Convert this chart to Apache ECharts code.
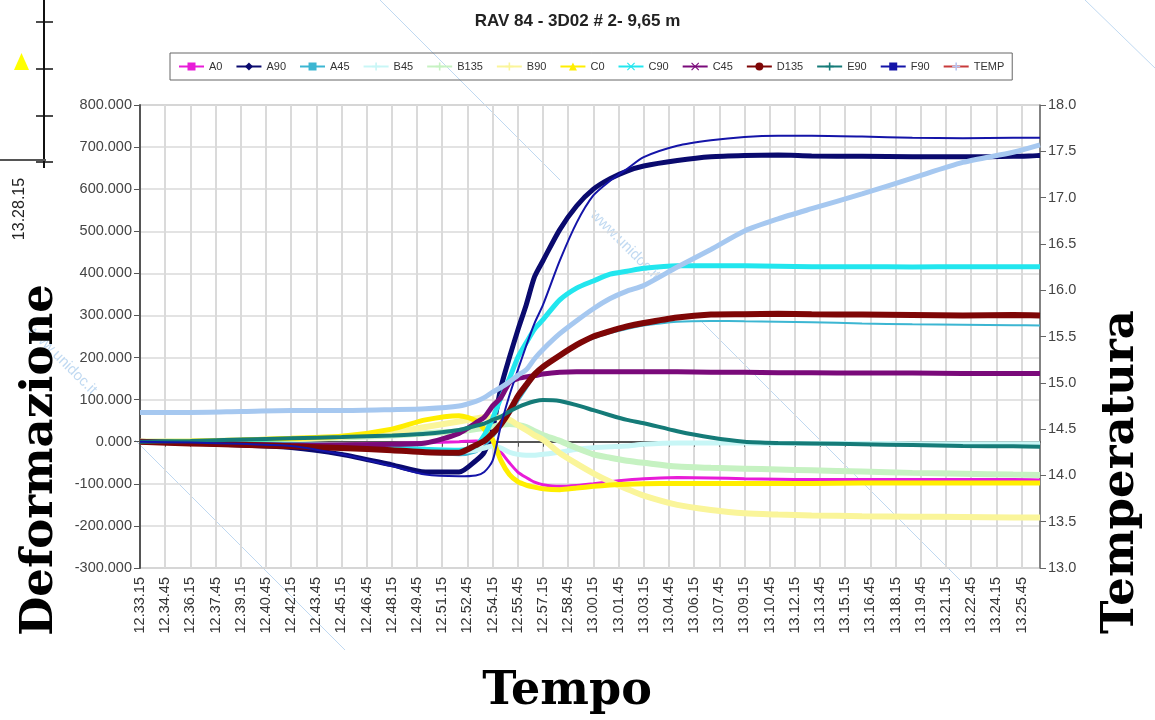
<!DOCTYPE html>
<html>
<head>
<meta charset="utf-8">
<title>RAV 84 - 3D02</title>
<script src="https://cdn.jsdelivr.net/npm/echarts@6/dist/echarts.min.js"></script>
<style>
  html, body { margin: 0; padding: 0; background: #fff; }
  #chart { width: 1155px; height: 720px; }
</style>
</head>
<body>
<div id="chart"></div>
<script>
// tempo: minuti dopo le 12.33.15
const timeMin = [0, 3, 6, 9, 12, 15, 17, 19, 20, 20.5, 21, 21.5, 22, 22.5, 23, 23.5, 24,
  25, 26, 27, 28, 29, 30, 32, 34, 36, 38, 40, 43, 46, 49, 52, 53.6];

// deformazioni (asse sinistro)
const A0   = [0, -2, -4, -6, -6, -4, -2, 0, 2, 0, -8, -25, -50, -72, -85, -96, -102, -106, -104, -100, -95, -91, -88, -85, -86, -88, -89, -90, -90, -90, -90, -90, -91];
const A90  = [0, -3, -8, -14, -30, -55, -72, -72, -45, -25, 30, 130, 200, 265, 325, 392, 430, 504, 560, 600, 625, 643, 655, 668, 677, 680, 681, 679, 678, 677, 677, 678, 680];
const A45  = [0, -3, -6, -9, -14, -20, -28, -32, -25, -10, 10, 35, 65, 95, 125, 155, 175, 205, 228, 245, 258, 268, 276, 285, 287, 286, 285, 284, 281, 279, 278, 277, 276];
const B45  = [0, -1, -3, -5, -8, -12, -18, -22, -20, -15, -10, -15, -25, -30, -32, -32, -30, -25, -18, -14, -12, -10, -6, -3, -3, -3, -4, -4, -4, -5, -5, -5, -5];
const B135 = [0, 1, 3, 6, 10, 15, 20, 25, 30, 33, 36, 40, 42, 40, 35, 25, 16, 2, -15, -30, -38, -45, -50, -59, -62, -64, -66, -68, -71, -74, -76, -78, -79];
const B90  = [0, 1, 3, 7, 12, 22, 35, 48, 55, 58, 58, 57, 52, 40, 28, 15, 5, -27, -52, -75, -95, -112, -128, -150, -162, -170, -173, -175, -177, -178, -179, -180, -180];
const C0   = [0, 1, 4, 8, 13, 30, 52, 62, 50, 30, 5, -45, -78, -95, -103, -108, -112, -114, -110, -106, -103, -101, -100, -99, -99, -99, -99, -99, -98, -98, -98, -98, -98];
const C90  = [0, -2, -4, -6, -10, -15, -18, -20, -10, 15, 55, 105, 150, 200, 235, 268, 290, 337, 365, 382, 398, 405, 412, 418, 418, 418, 417, 416, 416, 415, 416, 416, 416];
const C45  = [0, -3, -6, -8, -8, -6, -3, 20, 45, 58, 85, 105, 140, 150, 154, 157, 161, 165, 166, 166, 166, 166, 166, 166, 165, 165, 164, 164, 163, 163, 162, 162, 162];
const D135 = [0, -4, -7, -11, -15, -20, -25, -26, -8, 2, 20, 42, 72, 108, 135, 160, 178, 205, 230, 250, 263, 274, 282, 295, 302, 303, 304, 303, 302, 301, 300, 301, 300];
const E90  = [0, 2, 5, 8, 11, 15, 19, 28, 38, 43, 52, 60, 72, 82, 90, 96, 99, 97, 87, 75, 63, 52, 44, 25, 10, 0, -3, -4, -6, -8, -10, -11, -12];
const F90  = [0, -2, -5, -10, -30, -58, -78, -82, -80, -72, -45, 40, 110, 170, 228, 282, 325, 430, 520, 585, 620, 648, 676, 703, 716, 724, 727, 727, 725, 722, 721, 722, 722];
// temperatura (asse destro)
const TEMP = [14.68, 14.68, 14.69, 14.70, 14.70, 14.71, 14.72, 14.75, 14.80, 14.84, 14.90, 14.95, 15.01, 15.08, 15.14, 15.26, 15.36, 15.53, 15.67, 15.80, 15.91, 15.99, 16.05, 16.25, 16.44, 16.64, 16.77, 16.88, 17.04, 17.21, 17.38, 17.49, 17.57];

const sansFont = 'Liberation Sans, Arial, sans-serif';
const serifFont = 'DejaVu Serif, serif';

// simboli custom per la legenda
const symX = 'path://M1,0L5,4L9,0L10,1L6,5L10,9L9,10L5,6L1,10L0,9L4,5L0,1Z';
const symPlus = 'path://M4,0H6V4H10V6H6V10H4V6H0V4H4Z';
const symDash = 'path://M0,4H10V6H0Z';

const pad = (n) => String(n).padStart(2, '0');
function fmtTime(t) {
    if (Math.abs(t / 1.5 - Math.round(t / 1.5)) > 1e-6) return '';
    const s = Math.round(12 * 3600 + 33 * 60 + 15 + t * 60);
    return Math.floor(s / 3600) + '.' + pad(Math.floor((s % 3600) / 60)) + '.' + pad(s % 60);
}

function line(name, values, color, width, symbol, yAxisIndex) {
    return {
        name: name,
        type: 'line',
        yAxisIndex: yAxisIndex || 0,
        data: timeMin.map((t, i) => [t, values[i]]),
        smooth: 0.25,
        symbol: symbol,
        showSymbol: false,
        color: color,
        lineStyle: { color: color, width: width },
        itemStyle: { color: color },
        emphasis: { disabled: true }
    };
}

const series = [
    line('A0', A0, '#E81CD8', 3, 'rect'),
    line('A90', A90, '#0A0A6E', 5, 'diamond'),
    line('A45', A45, '#3CB6D2', 2, symDash),
    line('B45', B45, '#C8F6F6', 5, symPlus),
    line('B135', B135, '#C6F2C2', 6, symPlus),
    line('B90', B90, '#FAF59A', 6, symPlus),
    line('C0', C0, '#FFEE00', 5, 'triangle'),
    line('C90', C90, '#22E6EE', 5, symX),
    line('C45', C45, '#7A0A7A', 5, symX),
    line('D135', D135, '#7E0606', 6, 'circle'),
    line('E90', E90, '#157B78', 4, symPlus),
    line('F90', F90, '#1414A8', 2, symDash),
    line('TEMP', TEMP, '#A6C8F0', 5, symPlus, 1)
];

const legendData = series.map((s) => {
    if (s.name === 'TEMP') {
        return { name: 'TEMP', lineStyle: { color: '#C83A3A' }, itemStyle: { color: '#B8C4F0' } };
    }
    return { name: s.name };
});

const wm = 'rgba(140,185,230,0.55)';

const option = {
    backgroundColor: '#fff',
    animation: false,
    title: {
        text: 'RAV 84 - 3D02 # 2- 9,65 m',
        left: 'center',
        top: 8,
        textStyle: { fontFamily: sansFont, fontSize: 17, fontWeight: 'bold', color: '#222' }
    },
    legend: {
        data: legendData,
        left: 170,
        top: 53,
        padding: [8, 8],
        itemWidth: 25,
        itemHeight: 10,
        itemGap: 13,
        borderColor: '#666',
        borderWidth: 1,
        lineStyle: { width: 2 },
        textStyle: { fontFamily: sansFont, fontSize: 11, color: '#333' }
    },
    grid: {
        left: 140,
        right: 115,
        top: 105,
        bottom: 152,
        show: true,
        borderColor: '#999',
        borderWidth: 1,
        backgroundColor: '#fff'
    },
    xAxis: {
        type: 'value',
        min: 0,
        max: 53.6,
        interval: 1.5,
        axisLine: { lineStyle: { color: '#555', width: 2 } },
        axisTick: { length: 5, lineStyle: { color: '#555' } },
        axisLabel: {
            rotate: 90,
            margin: 9,
            showMaxLabel: false,
            color: '#333',
            fontFamily: sansFont,
            fontSize: 14.5,
            formatter: fmtTime
        },
        splitLine: { show: true, lineStyle: { color: '#DADADA', width: 2 } }
    },
    yAxis: [
        {
            type: 'value',
            min: -300,
            max: 800,
            interval: 100,
            axisLine: { show: true, lineStyle: { color: '#555', width: 2 } },
            axisTick: { show: true, length: 6, lineStyle: { color: '#555' } },
            axisLabel: {
                color: '#444',
                fontFamily: sansFont,
                fontSize: 14.5,
                margin: 8,
                formatter: (v) => v.toFixed(3)
            },
            splitLine: { show: true, lineStyle: { color: '#DADADA', width: 1.5 } }
        },
        {
            type: 'value',
            min: 13,
            max: 18,
            interval: 0.5,
            position: 'right',
            axisLine: { show: true, lineStyle: { color: '#666', width: 1.5 } },
            axisTick: { show: true, length: 6, lineStyle: { color: '#666' } },
            axisLabel: {
                color: '#444',
                fontFamily: sansFont,
                fontSize: 14.5,
                margin: 8,
                formatter: (v) => v.toFixed(1)
            },
            splitLine: { show: false }
        }
    ],
    series: series,
    graphic: [
        // filigrana
        { type: 'line', silent: true, shape: { x1: 380, y1: 0, x2: 560, y2: 180 }, style: { stroke: wm, lineWidth: 1 } },
        { type: 'line', silent: true, shape: { x1: 700, y1: 320, x2: 960, y2: 580 }, style: { stroke: wm, lineWidth: 1 } },
        { type: 'line', silent: true, shape: { x1: 135, y1: 440, x2: 345, y2: 650 }, style: { stroke: wm, lineWidth: 1 } },
        { type: 'line', silent: true, shape: { x1: 1085, y1: 0, x2: 1155, y2: 68 }, style: { stroke: wm, lineWidth: 1 } },
        { type: 'text', silent: true, x: 625, y: 245, rotation: -Math.PI / 4,
          style: { text: 'www.unidoc.it', fill: wm, font: '15px ' + sansFont, textAlign: 'center', textVerticalAlign: 'middle' } },
        { type: 'text', silent: true, x: 62, y: 360, rotation: -Math.PI / 4,
          style: { text: 'www.unidoc.it', fill: wm, font: '15px ' + sansFont, textAlign: 'center', textVerticalAlign: 'middle' } },
        // frammento di grafico in alto a sinistra
        { type: 'line', shape: { x1: 44, y1: 0, x2: 44, y2: 168 }, style: { stroke: '#111', lineWidth: 2 } },
        { type: 'line', shape: { x1: 0, y1: 160, x2: 46, y2: 160 }, style: { stroke: '#555', lineWidth: 2 } },
        { type: 'line', shape: { x1: 36, y1: 22, x2: 53, y2: 22 }, style: { stroke: '#111', lineWidth: 1.5 } },
        { type: 'line', shape: { x1: 36, y1: 69, x2: 53, y2: 69 }, style: { stroke: '#111', lineWidth: 1.5 } },
        { type: 'line', shape: { x1: 36, y1: 116, x2: 53, y2: 116 }, style: { stroke: '#111', lineWidth: 1.5 } },
        { type: 'line', shape: { x1: 36, y1: 162, x2: 53, y2: 162 }, style: { stroke: '#111', lineWidth: 1.5 } },
        { type: 'polygon', shape: { points: [[14, 70], [29, 70], [21.5, 53]] }, style: { fill: '#FFFF00' } },
        { type: 'text', x: 20, y: 209, rotation: Math.PI / 2,
          style: { text: '13.28.15', fill: '#222', font: '16px ' + sansFont, textAlign: 'center', textVerticalAlign: 'middle' } },
        // titoli assi
        { type: 'text', x: 40, y: 460, rotation: Math.PI / 2,
          style: { text: 'Deformazione', fill: '#000', font: 'bold 45px ' + serifFont, textAlign: 'center', textVerticalAlign: 'middle' } },
        { type: 'text', x: 1121, y: 472, rotation: Math.PI / 2,
          style: { text: 'Temperatura', fill: '#000', font: 'bold 45px ' + serifFont, textAlign: 'center', textVerticalAlign: 'middle' } },
        { type: 'text', x: 567, y: 692,
          style: { text: 'Tempo', fill: '#000', font: 'bold 46px ' + serifFont, textAlign: 'center', textVerticalAlign: 'middle' } }
    ]
};

const myChart = echarts.init(document.getElementById('chart'));
myChart.setOption(option);
</script>
</body>
</html>
